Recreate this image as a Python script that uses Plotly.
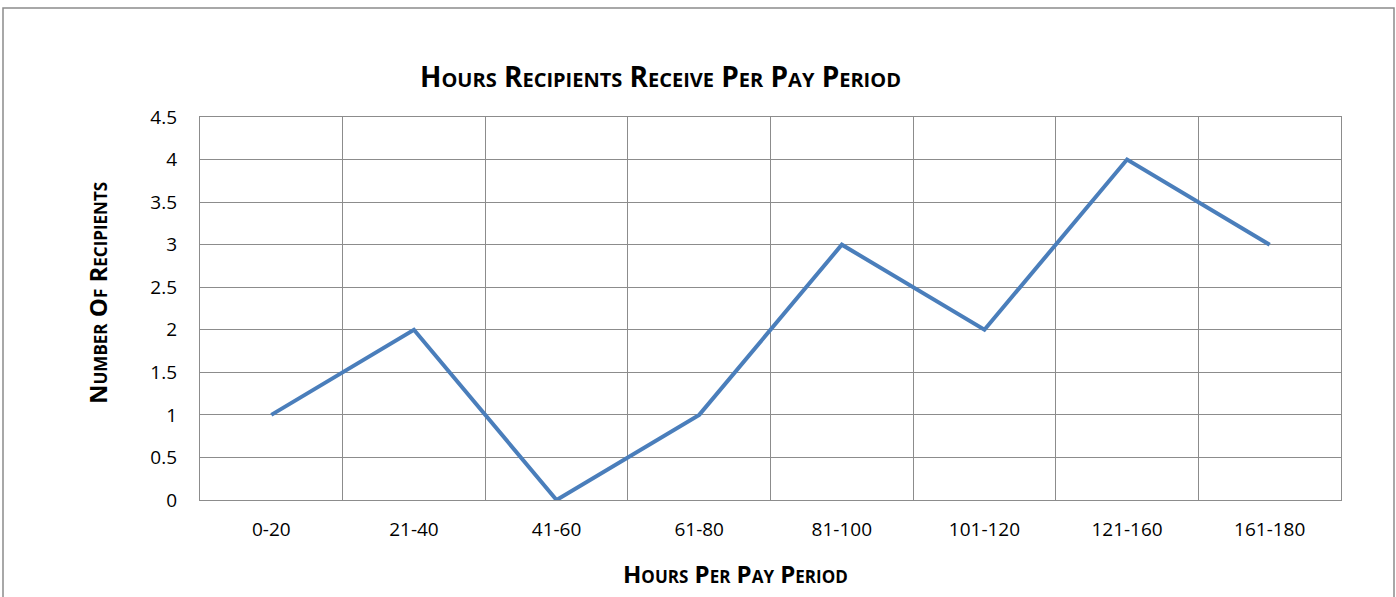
import plotly.graph_objects as go

categories = ["0-20", "21-40", "41-60", "61-80", "81-100", "101-120", "121-160", "161-180"]
recipients = [1, 2, 0, 1, 3, 2, 4, 3]
y_ticks = [0, 0.5, 1, 1.5, 2, 2.5, 3, 3.5, 4, 4.5]
y_tick_labels = ["0", "0.5", "1", "1.5", "2", "2.5", "3", "3.5", "4", "4.5"]

title_text = "Hours Recipients Receive Per Pay Period"
x_title = "Hours Per Pay Period"
y_title = "Number Of Recipients"

W, H = 1396, 597
L, R, T, B = 200, 55, 117, 97
FONT = "Open Sans, Liberation Sans, sans-serif"
GRID = "#8c8c8c"

fig = go.Figure()
fig.add_trace(go.Scatter(
    x=categories, y=recipients, mode="lines",
    line=dict(color="#4a7ebb", width=4),
    showlegend=False, hoverinfo="x+y",
))

pw, ph = W - L - R, H - T - B
def px(x):
    return (x - L) / pw
def py(y):
    return (H - B - y) / ph

fig.update_layout(
    width=W, height=H,
    margin=dict(l=L, r=R, t=T, b=B),
    paper_bgcolor="white", plot_bgcolor="white",
    font=dict(family=FONT, size=19, color="#000"),
    xaxis=dict(
        type="category", range=[-0.5, len(categories) - 0.5],
        tickson="boundaries", showgrid=True, gridcolor=GRID, gridwidth=1.4,
        showline=True, linecolor=GRID, linewidth=1.4, mirror=True,
        ticks="", ticklen=0, tickfont=dict(size=19), fixedrange=True,
        ticklabelstandoff=12,
    ),
    yaxis=dict(
        range=[0, 4.5], tickvals=y_ticks, ticktext=y_tick_labels,
        showgrid=True, gridcolor=GRID, gridwidth=1.4, zeroline=False,
        showline=True, linecolor=GRID, linewidth=1.4, mirror=True,
        ticks="", ticklabelstandoff=18,
        tickfont=dict(size=19), fixedrange=True,
    ),
    shapes=[dict(
        type="rect", xref="paper", yref="paper",
        x0=px(3), x1=px(1394), y0=py(640), y1=py(8),
        line=dict(color="#8c8c8c", width=1.5), fillcolor="rgba(0,0,0,0)",
        layer="below",
    )],
    annotations=[
        dict(text="<b>" + title_text + "</b>", xref="paper", yref="paper",
             x=px(660), y=py(76), showarrow=False, xanchor="center", yanchor="middle",
             font=dict(family=FONT, size=28, variant="small-caps", color="#000")),
        dict(text="<b>" + x_title + "</b>", xref="paper", yref="paper",
             x=px(735), y=py(573), showarrow=False, xanchor="center", yanchor="middle",
             font=dict(family=FONT, size=24, variant="small-caps", color="#000")),
        dict(text="<b>" + y_title + "</b>", xref="paper", yref="paper",
             x=px(97), y=py(293), showarrow=False, xanchor="center", yanchor="middle",
             textangle=-90,
             font=dict(family=FONT, size=24, variant="small-caps", color="#000")),
    ],
)

fig.write_html("out.html", config={"displayModeBar": False},
               post_script="document.body.style.margin='0';")
